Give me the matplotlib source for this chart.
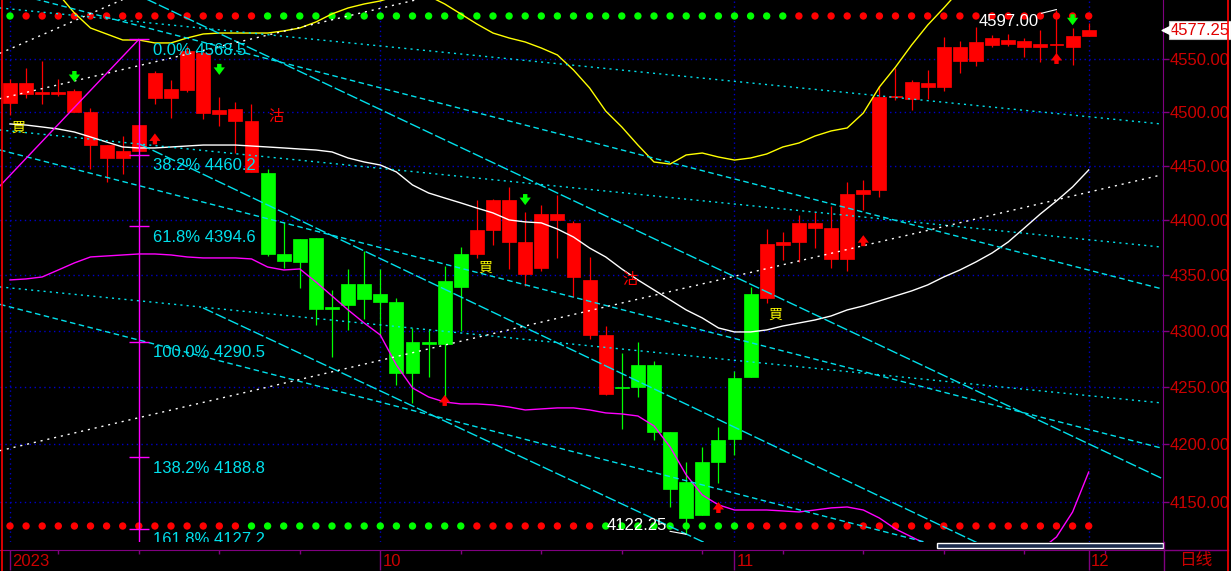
import matplotlib
matplotlib.use("Agg")
import matplotlib.pyplot as plt
import matplotlib.transforms as mtransforms
from matplotlib.lines import Line2D
from matplotlib.patches import Rectangle
from matplotlib.ticker import FixedLocator, FormatStrFormatter, NullLocator

plt.rcParams['font.family'] = ['Liberation Sans', 'Noto Sans CJK TC', 'DejaVu Sans']

# ---------------- daily bars, Sep 2023 .. Dec 2023 ----------------
opens = [4508.6, 4517.0, 4517.0, 4517.0, 4500.2, 4469.4, 4457.4, 4457.4, 4463.9, 4513.3,
         4513.3, 4520.8, 4499.2, 4498.3, 4491.8, 4444.5, 4443.5, 4369.4, 4383.0, 4383.9,
         4321.6, 4342.3, 4342.3, 4333.3, 4326.1, 4290.3, 4290.3, 4345.0, 4369.4, 4369.4,
         4391.2, 4380.3, 4351.3, 4356.7, 4400.4, 4348.1, 4296.5, 4244.2, 4250.3, 4269.8,
         4269.8, 4210.8, 4167.3, 4184.7, 4203.8, 4258.3, 4333.3, 4329.7, 4377.5, 4380.3,
         4393.0, 4364.9, 4364.9, 4424.2, 4427.9, 4514.2, 4512.3, 4523.6, 4523.6, 4548.1,
         4548.1, 4563.2, 4564.2, 4561.3, 4561.3, 4563.2, 4561.3, 4571.8]
highs = [4531.1, 4541.5, 4548.1, 4531.1, 4521.7, 4504.0, 4469.4, 4477.8, 4488.0, 4538.7,
         4530.2, 4562.3, 4557.6, 4514.2, 4509.5, 4507.7, 4447.2, 4398.6, 4383.0, 4383.9,
         4336.9, 4355.8, 4372.1, 4355.8, 4329.7, 4302.8, 4301.9, 4358.5, 4375.7, 4418.7,
         4419.6, 4430.7, 4407.7, 4414.1, 4423.3, 4399.5, 4366.7, 4304.5, 4280.5, 4290.3,
         4273.4, 4210.8, 4184.7, 4197.4, 4215.2, 4264.5, 4339.6, 4392.1, 4389.4, 4405.0,
         4407.7, 4413.2, 4435.3, 4437.1, 4524.5, 4541.5, 4530.2, 4539.6, 4570.8, 4567.1,
         4580.3, 4572.7, 4573.7, 4569.9, 4577.5, 4597.0, 4579.4, 4584.1]
lows = [4497.4, 4513.3, 4507.7, 4515.2, 4500.2, 4447.2, 4435.3, 4442.6, 4463.9, 4507.7,
        4494.6, 4518.9, 4493.6, 4487.1, 4462.0, 4444.5, 4367.6, 4356.7, 4338.7, 4305.5,
        4276.9, 4301.0, 4310.8, 4295.6, 4252.2, 4236.3, 4259.2, 4238.9, 4300.1, 4365.8,
        4377.5, 4355.8, 4340.5, 4354.0, 4365.8, 4330.6, 4293.0, 4243.3, 4213.5, 4241.5,
        4203.8, 4145.7, 4122.25, 4138.8, 4166.4, 4190.8, 4259.2, 4325.2, 4364.0, 4362.2,
        4374.8, 4356.7, 4354.0, 4409.5, 4421.5, 4511.4, 4502.1, 4512.3, 4519.9, 4536.8,
        4543.4, 4561.3, 4562.3, 4551.9, 4547.2, 4547.2, 4544.3, 4571.8]
closes = [4527.4, 4527.4, 4518.9, 4518.9, 4519.9, 4500.2, 4469.4, 4463.9, 4488.0, 4536.8,
          4521.7, 4557.6, 4555.7, 4502.1, 4503.0, 4491.8, 4369.4, 4363.1, 4362.2, 4319.8,
          4319.8, 4323.4, 4328.8, 4326.1, 4262.7, 4262.7, 4288.5, 4288.5, 4339.6, 4391.2,
          4418.7, 4418.7, 4380.3, 4405.9, 4405.9, 4397.7, 4345.9, 4296.5, 4249.5, 4250.3,
          4210.8, 4161.3, 4136.2, 4138.8, 4184.7, 4204.7, 4259.2, 4378.5, 4380.3, 4397.7,
          4397.7, 4393.0, 4424.2, 4427.9, 4514.2, 4515.2, 4528.3, 4527.4, 4561.3, 4561.3,
          4566.1, 4569.9, 4568.0, 4567.1, 4564.2, 4564.2, 4571.8, 4577.25]

# bands
upper_band = [4668.8, 4649.4, 4630.1, 4611.9, 4593.7, 4579.4, 4573.7, 4568.0, 4568.0, 4565.2,
              4565.2, 4569.9, 4573.7, 4574.6, 4574.6, 4574.6, 4574.6, 4576.6, 4579.4, 4585.1,
              4592.8, 4598.5, 4602.3, 4605.2, 4610.0, 4611.9, 4610.0, 4602.3, 4592.8, 4583.2,
              4574.6, 4569.9, 4566.1, 4560.4, 4553.8, 4539.6, 4522.7, 4501.1, 4486.2, 4469.4,
              4453.7, 4451.8, 4460.2, 4462.0, 4458.3, 4455.5, 4457.4, 4461.1, 4467.6, 4471.3,
              4477.8, 4482.5, 4485.3, 4499.2, 4523.6, 4542.4, 4563.2, 4582.2, 4598.5, 4615.7,
              4630.1, 4639.7, 4646.4, 4651.3, 4654.2, 4656.1, 4658.1, 4660.0]
mid_band = [4489.0, 4488.0, 4486.2, 4484.3, 4481.5, 4476.9, 4472.2, 4467.6, 4466.7, 4466.7,
            4467.6, 4468.5, 4469.4, 4469.4, 4469.4, 4468.5, 4467.6, 4466.7, 4465.7, 4464.8,
            4463.0, 4457.4, 4453.7, 4450.9, 4444.5, 4432.5, 4425.1, 4420.5, 4416.0, 4411.3,
            4406.8, 4400.4, 4398.6, 4397.7, 4392.1, 4384.8, 4374.8, 4366.7, 4355.8, 4345.9,
            4336.9, 4327.9, 4318.9, 4311.7, 4302.8, 4299.2, 4299.2, 4301.0, 4304.5, 4307.2,
            4309.9, 4313.5, 4318.9, 4322.5, 4327.0, 4331.5, 4336.0, 4341.4, 4348.6, 4354.9,
            4362.2, 4370.3, 4380.3, 4393.0, 4405.9, 4417.8, 4430.7, 4446.3]
lower_band = [4345.9, 4346.8, 4348.6, 4354.9, 4361.3, 4366.7, 4367.6, 4368.5, 4369.4, 4369.4,
              4368.5, 4366.7, 4365.8, 4365.8, 4365.8, 4364.9, 4357.6, 4354.9, 4355.8, 4344.1,
              4331.5, 4318.9, 4307.2, 4296.5, 4269.8, 4249.5, 4241.5, 4237.1, 4235.4, 4235.4,
              4234.5, 4232.7, 4230.1, 4231.0, 4231.9, 4231.9, 4230.1, 4227.5, 4226.6, 4224.8,
              4216.1, 4197.7, 4173.4, 4156.1, 4147.5, 4143.1, 4143.1, 4143.1, 4142.3, 4141.4,
              4143.1, 4144.9, 4145.7, 4143.1, 4136.2, 4126.8, 4120.0, 4113.2, 4104.6, 4096.1,
              4090.1, 4087.6, 4091.8, 4100.3, 4108.9, 4120.0, 4141.4, 4175.9]

# signal dots (G = green, R = red)
top_dots = ("G" "RRRRRRRRRRRRRRR"
            "GGGGGGGGGGG" "GGGGGGGGGGG" "GGGGGGGGGGG"
            "RRRRRRRRRR" "RRRRRRRRR")
bottom_dots = ("RRRRRRRRRRRRRRR" "GGGGGGGGGGGGGG" "RRRRRRRR" "GGGGGGGGG"
               "RRRRRRRRRRR" "RRRRRRRRRRR")

# arrows: (bar, tip price)
down_arrows = [(4, 4528.3), (13, 4535.0), (32, 4414.0), (66, 4582.0)]
up_arrows = [(9, 4480.2), (27, 4243.3), (44, 4150.0), (53, 4386.5), (65, 4555.7)]
buy_marks = [(0.5, 4485.3), (29.5, 4356.7), (47.5, 4314.4)]
sell_marks = [(16.5, 4495.5), (38.5, 4345.9)]

# trend lines (x0, p0, x1, p1, style)
cyan_lines = [
    (-0.62, 4598.5, 71.5, 4489.0, 'dot'),
    (-0.62, 4483.4, 71.5, 4375.7, 'dot'),
    (-0.62, 4339.6, 71.5, 4236.3, 'dot'),
    (-0.62, 4615.7, 71.5, 4338.0, 'dash'),
    (-0.62, 4464.8, 71.5, 4196.8, 'dash'),
    (-0.62, 4323.9, 71.5, 4064.0, 'dash'),
    (-0.62, 4673.6, 71.5, 4170.7, 'long'),
    (8.07, 4470.2, 61.5, 4105.7, 'long'),
    (11.99, 4320.7, 46.6, 4092.9, 'long'),
]
white_lines = [
    (-0.62, 4194.5, 71.5, 4441.7),
    (-0.62, 4512.7, 71.5, 4778.6),
    (-0.62, 4555.4, 11.8, 4639.0),
]

# fibonacci
fib_bar = 8
fib_anchor = (-9.8, 4290.5)
fib_ratios = [0.0, 38.2, 61.8, 100.0, 138.2, 161.8]
fib_prices = [4568.5, 4460.2, 4394.6, 4290.5, 4188.8, 4127.2]

price_ticks = [4150, 4200, 4250, 4300, 4350, 4400, 4450, 4500, 4550]
month_bars = [0, 23, 45, 67]
month_labels = ['2023', '10', '11', '12']
minor_bars = [3, 8, 13, 18, 28, 33, 38, 43, 48, 53, 58, 63, 68]

RED = '#ff0000'
GREEN = '#00ff00'
CYAN = '#00e0ec'
PURPLE = '#800080'
AXRED = '#cc0000'
GRIDBLUE = '#0000c8'

W, H = 1231, 571
fig = plt.figure(figsize=(W / 100, H / 100), dpi=100, facecolor='black')
ax = fig.add_axes([0, 29 / H, 1163 / W, 542 / H], facecolor='black')
ax.set_yscale('log')
ax.set_xlim(-0.621, 71.615)
ax.set_ylim(4115.65, 4606.1)

x = list(range(len(closes)))

# candles
for i in x:
    col = RED if closes[i] >= opens[i] else GREEN
    lo, hi = min(opens[i], closes[i]), max(opens[i], closes[i])
    ax.vlines(i, lows[i], highs[i], color=col, lw=0.9, zorder=3)
    ax.bar(i, hi - lo, bottom=lo, width=0.86, color=col, edgecolor=col, lw=0.5, zorder=3)

# bands
ax.plot(x, upper_band, color='#ffff00', lw=1, zorder=4)
ax.plot(x, mid_band, color='white', lw=1, zorder=4)
ax.plot(x, lower_band, color='#ff00ff', lw=1, zorder=4)

styles = {'dot': (0, (1.5, 3)), 'dash': (0, (4, 2.5)), 'long': (0, (8, 2))}
for x0, p0, x1, p1, kind in cyan_lines:
    ax.plot([x0, x1], [p0, p1], color=CYAN, lw=1, ls=styles[kind], zorder=4)
for x0, p0, x1, p1 in white_lines:
    ax.plot([x0, x1], [p0, p1], color='white', lw=1, ls=(0, (1.5, 3.5)), zorder=4)

# fibonacci
ax.plot([fib_anchor[0], fib_bar], [fib_anchor[1], fib_prices[0]], color='#ff00ff', lw=1, zorder=4)
ax.vlines(fib_bar, ax.get_ylim()[0], fib_prices[0], color='#ff00ff', lw=1, zorder=4)
ax.hlines(fib_prices, fib_bar - 0.62, fib_bar + 0.62, color='#ff00ff', lw=1, zorder=4)
for r, p in zip(fib_ratios, fib_prices):
    t = ax.annotate(f'{r:.1f}% {p:.1f}', xy=(fib_bar, p), xytext=(14, -11),
                    textcoords='offset pixels', color=CYAN, fontsize=12,
                    ha='left', va='center', zorder=6, annotation_clip=False)
    t.set_clip_on(True)
    t.set_clip_box(ax.bbox)

# signal dots
trans = mtransforms.blended_transform_factory(ax.transData, ax.transAxes)
for row, ypos in ((top_dots, 0.9705), (bottom_dots, 0.0295)):
    cols = [GREEN if c == 'G' else RED for c in row]
    ax.scatter(x, [ypos] * len(x), s=28, c=cols, transform=trans, zorder=2, linewidths=0)

# arrows
arrow_style = 'simple,head_width=0.9,head_length=0.6,tail_width=0.35'
for i, p in down_arrows:
    ax.annotate('', xy=(i, p), xytext=(0, 11), textcoords='offset pixels',
                arrowprops=dict(arrowstyle=arrow_style, mutation_scale=9,
                                fc=GREEN, ec=GREEN, lw=0, shrinkA=0, shrinkB=0),
                zorder=6)
for i, p in up_arrows:
    ax.annotate('', xy=(i, p), xytext=(0, -11), textcoords='offset pixels',
                arrowprops=dict(arrowstyle=arrow_style, mutation_scale=9,
                                fc=RED, ec=RED, lw=0, shrinkA=0, shrinkB=0),
                zorder=6)
for i, p in buy_marks:
    ax.text(i, p, '買', color='#ffff00', fontsize=10, ha='center', va='center', zorder=6)
for i, p in sell_marks:
    ax.text(i, p, '沽', color=RED, fontsize=11, ha='center', va='center', zorder=6)

# extreme labels
hi_i = highs.index(max(highs))
lo_i = lows.index(min(lows))
ax.annotate(f'{highs[hi_i]:.2f}', xy=(hi_i, highs[hi_i]), xytext=(-18, -12),
            textcoords='offset pixels', color='white', fontsize=12, ha='right', va='center',
            arrowprops=dict(arrowstyle='-', color='white', lw=0.8, shrinkA=0, shrinkB=0), zorder=7)
ax.annotate(f'{lows[lo_i]:.2f}', xy=(lo_i, lows[lo_i]), xytext=(-19, 9),
            textcoords='offset pixels', color='white', fontsize=12, ha='right', va='center',
            arrowprops=dict(arrowstyle='-', color='white', lw=0.8, shrinkA=0, shrinkB=0), zorder=7)

# axes, ticks, grid
ax.yaxis.tick_right()
ax.yaxis.set_major_locator(FixedLocator(price_ticks))
ax.yaxis.set_minor_locator(NullLocator())
ax.yaxis.set_major_formatter(FormatStrFormatter('%.2f'))
ax.tick_params(axis='y', colors=PURPLE, labelcolor=AXRED, labelsize=12, length=4.5, width=1, pad=0.5)
ax.xaxis.set_major_locator(FixedLocator(month_bars))
ax.xaxis.set_minor_locator(FixedLocator(minor_bars))
ax.tick_params(axis='x', which='major', colors=PURPLE, length=14.5, width=1, labelbottom=False)
ax.tick_params(axis='x', which='minor', colors=PURPLE, length=3, width=1)
ax.grid(True, axis='both', which='major', color=GRIDBLUE, ls=(0, (1, 2.5)), lw=1)
ax.set_axisbelow(True)
for s in ('top', 'left'):
    ax.spines[s].set_visible(False)
ax.spines['right'].set_color(PURPLE)
ax.spines['bottom'].set_color(PURPLE)
ax.spines['bottom'].set_position(('outward', 5.76))

for b, lab in zip(month_bars, month_labels):
    ax.annotate(lab, xy=(b, 0), xycoords=('data', 'axes fraction'), xytext=(2, -20),
                textcoords='offset pixels', color=AXRED, fontsize=12, ha='left', va='center',
                annotation_clip=False)

# last price tag
ax.annotate(f'{closes[-1]:.2f}', xy=(1.0, closes[-1]), xycoords=('axes fraction', 'data'),
            xytext=(7, 0), textcoords='offset pixels', color='#e00000', fontsize=12,
            ha='left', va='center', annotation_clip=False,
            bbox=dict(boxstyle='square,pad=0.08', fc='white', ec='#c8c8c8', lw=0.8))
ax.scatter([1.0 + 3 / 1163], [closes[-1]], marker='<', s=40, color='white',
           transform=mtransforms.blended_transform_factory(ax.transAxes, ax.transData),
           clip_on=False, zorder=8)

# frame pieces outside the plot area
fig.add_artist(Line2D([1163.5 / W, 1163.5 / W], [0, 29 / H], color=PURPLE, lw=1))
fig.add_artist(Line2D([1163 / W, 1228 / W], [21 / H, 21 / H], color=PURPLE, lw=1))
fig.add_artist(Line2D([1228 / W, 1228 / W], [0, 1], color=RED, lw=1.2))
fig.add_artist(Line2D([1.5 / W, 1.5 / W], [0, 1], color=RED, lw=1.2))
fig.add_artist(Rectangle((937 / W, 23 / H), 226 / W, 5 / H, transform=fig.transFigure,
                         fc='#1c2b4c', ec='white', lw=1))
fig.text(1196 / W, 1 - 561 / H, '日线', color=AXRED, fontsize=12, ha='center', va='center',
         family=['Noto Sans CJK SC', 'DejaVu Sans'])

fig.savefig('out.png', dpi=100, facecolor='black')
